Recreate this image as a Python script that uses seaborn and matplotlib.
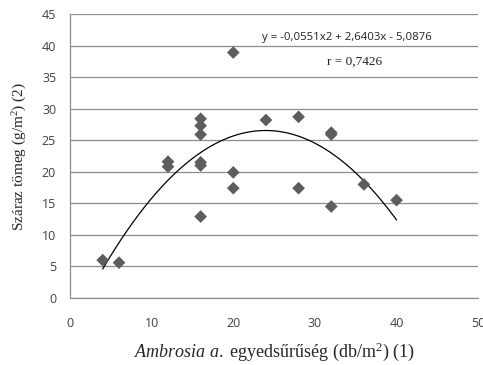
import numpy as np
import pandas as pd
import matplotlib
matplotlib.use("Agg")
import matplotlib.pyplot as plt
import seaborn as sns

# Ambrosia density (db/m2) and dry mass (g/m2)
density = [4, 6, 12, 12, 16, 16, 16, 16, 16, 16, 20, 20, 20, 24, 28, 28, 32, 32, 32, 36, 40]
dry_mass = [6.0, 5.6, 21.6, 20.8, 28.4, 27.3, 25.9, 21.5, 21.0, 12.9, 38.9, 19.9, 17.4,
            28.2, 28.7, 17.4, 26.2, 25.9, 14.5, 18.0, 15.5]

# quadratic trendline coefficients shown on the chart
trend_coef = [-0.0551, 2.6403, -5.0876]
trend_range = [4, 40]

x_ticks = [0, 10, 20, 30, 40, 50]
y_ticks = [0, 5, 10, 15, 20, 25, 30, 35, 40, 45]

df = pd.DataFrame({"density": density, "dry_mass": dry_mass})

sns.set_style("white")
plt.rcParams["mathtext.fontset"] = "custom"
plt.rcParams["mathtext.rm"] = "Liberation Serif"
plt.rcParams["mathtext.it"] = "Liberation Serif:italic"

fig = plt.figure(figsize=(4.83, 3.65), dpi=100)
ax = fig.add_axes([0.145, 0.1836, 0.845, 0.778])

for y in y_ticks:
    ax.axhline(y, color="#8c8c8c", lw=0.9, zorder=0)

sns.scatterplot(data=df, x="density", y="dry_mass", marker="D", s=42,
                color="#5d5d5d", edgecolor="none", ax=ax, zorder=3)

xs = np.linspace(trend_range[0], trend_range[1], 200)
ax.plot(xs, np.polyval(trend_coef, xs), color="black", lw=0.9, zorder=2)

ax.set_xlim(0, 50)
ax.set_ylim(0, 45)
ax.set_xticks(x_ticks)
ax.set_yticks(y_ticks)
ax.tick_params(axis="both", direction="out", length=4, width=0.8, color="#8c8c8c",
               labelsize=9, labelcolor="#404040", pad=6)
ax.tick_params(axis="x", pad=10)
for lab in ax.get_xticklabels() + ax.get_yticklabels():
    lab.set_family("Open Sans")

for side in ["top", "right"]:
    ax.spines[side].set_visible(False)
for side in ["left", "bottom"]:
    ax.spines[side].set_color("#8c8c8c")
    ax.spines[side].set_linewidth(0.9)

ax.set_xlabel(r"$\mathit{Ambrosia\ a.}$ egyedsűrűség (db/m$^2$) (1)",
              family="Liberation Serif", fontsize=13, labelpad=7)
ax.set_ylabel(r"Száraz tömeg (g/m$^2$) (2)", family="Liberation Serif",
              fontsize=11, labelpad=9)

ax.text(23.5, 41.2, "y = -0,0551x2 + 2,6403x - 5,0876", family="Open Sans",
        fontsize=8.2, color="#222222", va="center", ha="left")
ax.text(34.9, 37.4, "r = 0,7426", family="Liberation Serif",
        fontsize=9.5, color="#222222", va="center", ha="center")

fig.savefig("out.png", dpi=100)
